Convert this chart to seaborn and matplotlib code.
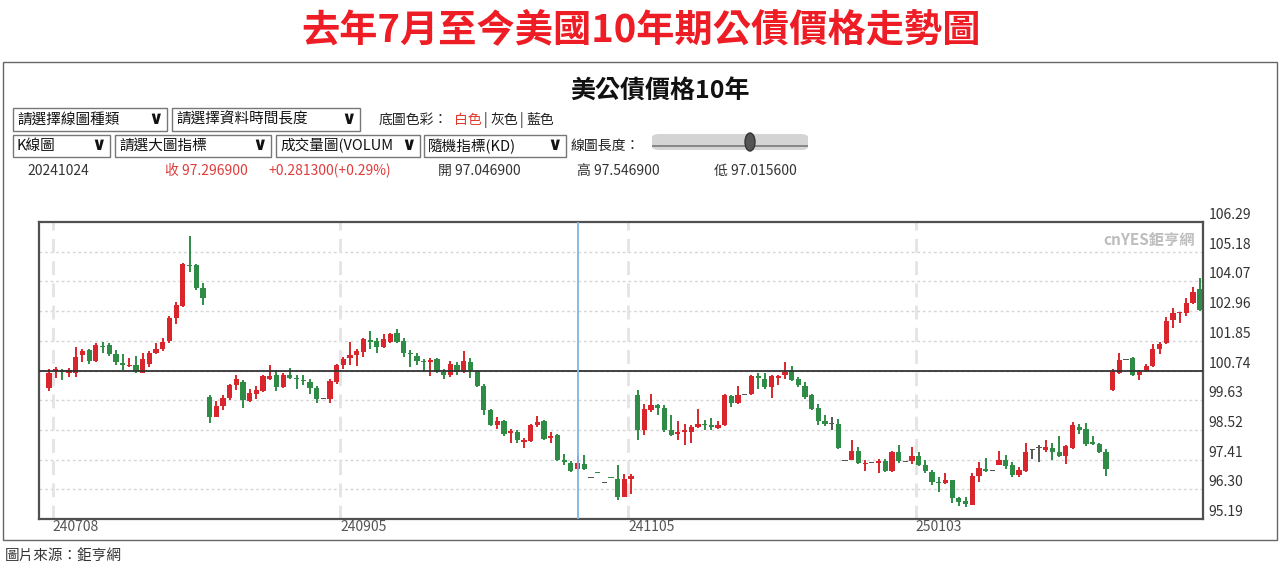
import numpy as np
import pandas as pd
import matplotlib
matplotlib.use('Agg')
from matplotlib import pyplot as plt
from matplotlib.patches import Rectangle, FancyBboxPatch, Ellipse
import seaborn as sns

# K線資料（讀圖估計）
opens = [100.10, 100.74, 100.75, 100.63, 100.63, 101.31, 101.49, 101.10, 101.65, 101.69,
         101.34, 101.03, 100.91, 100.94, 100.66, 101.00, 101.38, 101.54, 101.84, 102.71,
         103.16, 104.67, 104.69, 103.84, 99.75, 99.00, 99.41, 99.71, 100.19, 100.31,
         99.60, 99.88, 99.98, 100.44, 100.59, 100.13, 100.59, 100.46, 100.40, 100.31,
         100.09, 99.69, 99.66, 100.31, 100.94, 101.21, 101.31, 101.44, 101.88, 101.84,
         101.63, 101.79, 102.13, 101.84, 101.41, 101.29, 101.09, 101.04, 101.16, 100.69,
         100.56, 100.94, 100.69, 101.06, 100.71, 100.16, 99.25, 98.69, 98.84, 98.41,
         98.44, 98.06, 98.09, 98.69, 98.84, 98.21, 98.34, 97.38, 97.29, 97.047,
         97.25, 96.73, 96.95, 96.56, 96.75, 96.69, 96.00, 96.69, 99.81, 98.50,
         99.25, 99.46, 99.34, 98.50, 98.38, 98.46, 98.46, 98.63, 98.75, 98.71,
         98.59, 98.69, 99.79, 99.54, 99.84, 99.88, 100.54, 100.44, 100.13, 100.46,
         100.59, 100.75, 100.44, 100.16, 99.81, 99.34, 98.84, 98.75, 98.75, 97.38,
         97.41, 97.75, 97.25, 97.29, 97.29, 97.34, 97.00, 97.71, 97.34, 97.34,
         97.54, 97.21, 96.96, 96.59, 96.54, 96.63, 95.96, 95.88, 95.71, 96.79,
         97.04, 97.00, 97.21, 97.38, 97.19, 96.85, 96.98, 97.78, 97.85, 97.78,
         97.85, 97.69, 97.53, 97.85, 98.63, 98.56, 98.06, 98.00, 97.69, 100.00,
         100.65, 101.15, 101.19, 100.56, 100.73, 100.90, 101.56, 101.75, 102.63, 102.88,
         102.90, 103.25, 103.78]
highs = [100.79, 100.87, 100.81, 100.84, 101.63, 101.56, 101.56, 101.75, 101.81, 101.75,
         101.50, 101.34, 101.19, 101.29, 101.38, 101.46, 101.75, 101.94, 102.78, 103.29,
         104.75, 105.75, 104.71, 104.00, 99.84, 99.59, 99.81, 100.25, 100.56, 100.38,
         100.06, 100.16, 100.56, 100.94, 100.75, 100.63, 100.84, 100.59, 100.56, 100.44,
         100.16, 99.69, 100.41, 101.00, 101.25, 101.81, 101.56, 101.96, 102.21, 101.94,
         102.09, 102.16, 102.29, 101.96, 101.50, 101.41, 101.16, 101.19, 101.19, 100.79,
         101.09, 101.04, 101.46, 101.21, 100.75, 100.25, 99.29, 99.00, 98.88, 98.56,
         98.50, 98.21, 98.75, 99.03, 98.88, 98.44, 98.38, 97.63, 97.34, 97.547,
         97.59, 96.73, 96.95, 96.56, 96.75, 97.21, 96.88, 96.88, 100.00, 99.50,
         99.88, 99.50, 99.44, 99.09, 98.84, 98.75, 98.71, 99.29, 98.88, 98.96,
         98.84, 99.88, 99.84, 100.16, 99.84, 100.59, 100.63, 100.63, 100.59, 100.59,
         101.06, 100.91, 100.50, 100.31, 99.88, 99.50, 99.09, 99.00, 98.94, 97.38,
         98.13, 97.88, 97.38, 97.29, 97.44, 97.44, 97.75, 97.96, 97.34, 97.88,
         97.71, 97.38, 97.04, 96.75, 96.91, 96.66, 96.00, 96.00, 96.91, 97.31,
         97.46, 97.00, 97.75, 97.59, 97.31, 97.13, 98.03, 97.81, 97.94, 98.13,
         98.03, 98.31, 97.94, 98.81, 98.73, 98.78, 98.31, 98.03, 97.81, 100.81,
         101.40, 101.15, 101.25, 100.75, 101.00, 101.73, 101.81, 102.73, 103.06, 102.94,
         103.44, 103.85, 104.19]
lows = [99.98, 100.46, 100.38, 100.50, 100.48, 101.06, 101.00, 101.06, 101.41, 101.29,
        100.96, 100.75, 100.88, 100.66, 100.66, 100.88, 101.34, 101.46, 101.75, 102.46,
        103.13, 104.41, 103.75, 103.19, 98.79, 99.00, 99.25, 99.63, 100.00, 99.34,
        99.56, 99.69, 99.94, 100.38, 99.96, 100.09, 100.44, 100.06, 100.19, 99.88,
        99.54, 99.69, 99.54, 100.25, 100.81, 100.94, 100.91, 101.25, 101.56, 101.41,
        101.59, 101.75, 101.75, 101.25, 100.88, 100.94, 100.69, 100.54, 100.66, 100.41,
        100.50, 100.56, 100.66, 100.46, 100.13, 99.09, 98.66, 98.54, 98.31, 98.04,
        98.04, 97.84, 98.06, 98.63, 98.16, 98.04, 97.34, 97.21, 96.94, 97.016,
        97.04, 96.73, 96.93, 96.56, 96.73, 95.91, 96.00, 96.13, 98.16, 98.34,
        99.19, 99.09, 98.44, 98.29, 98.16, 97.94, 98.04, 98.59, 98.50, 98.50,
        98.56, 98.66, 99.38, 99.50, 99.84, 99.84, 100.04, 100.06, 99.71, 100.19,
        100.41, 100.34, 100.13, 99.69, 99.25, 98.71, 98.66, 98.50, 97.81, 97.38,
        97.38, 97.25, 97.00, 97.29, 96.91, 96.96, 96.96, 97.29, 97.34, 97.25,
        97.16, 96.91, 96.46, 96.21, 96.50, 95.79, 95.69, 95.63, 95.71, 96.56,
        96.96, 97.00, 97.19, 97.06, 96.75, 96.75, 96.94, 97.44, 97.31, 97.69,
        97.38, 97.50, 97.25, 97.81, 98.38, 97.90, 97.94, 97.65, 96.78, 99.98,
        100.60, 101.15, 100.53, 100.38, 100.69, 100.88, 101.35, 101.73, 102.31, 102.50,
        102.78, 103.23, 102.98]
closes = [100.66, 100.78, 100.67, 100.75, 101.25, 101.46, 101.10, 101.69, 101.60, 101.34,
          101.04, 100.96, 100.96, 100.71, 101.16, 101.41, 101.56, 101.81, 102.71, 103.19,
          104.71, 104.63, 103.84, 103.44, 99.00, 99.41, 99.71, 100.21, 100.44, 99.63,
          99.91, 100.00, 100.53, 100.54, 100.13, 100.59, 100.46, 100.41, 100.34, 100.09,
          99.66, 99.69, 100.34, 100.94, 101.16, 101.31, 101.46, 101.91, 101.81, 101.63,
          101.91, 102.10, 101.81, 101.38, 101.34, 101.10, 101.04, 101.13, 100.69, 100.59,
          101.00, 100.69, 101.10, 100.71, 100.16, 99.25, 98.71, 98.84, 98.38, 98.49,
          98.13, 98.16, 98.69, 98.81, 98.19, 98.31, 97.38, 97.31, 97.00, 97.297,
          97.06, 96.73, 96.93, 96.56, 96.73, 96.00, 96.69, 96.79, 98.50, 99.29,
          99.46, 99.34, 98.50, 98.34, 98.46, 98.52, 98.63, 98.75, 98.69, 98.63,
          98.71, 99.81, 99.54, 99.81, 99.84, 100.54, 100.46, 100.13, 100.54, 100.54,
          100.69, 100.38, 100.19, 99.75, 99.31, 98.84, 98.75, 98.75, 97.84, 97.38,
          97.75, 97.29, 97.29, 97.29, 97.34, 97.00, 97.71, 97.34, 97.34, 97.54,
          97.21, 97.00, 96.56, 96.54, 96.66, 95.96, 95.84, 95.75, 96.79, 97.09,
          96.99, 97.00, 97.38, 97.16, 96.85, 97.03, 97.69, 97.78, 97.85, 97.88,
          97.69, 97.53, 97.90, 98.69, 98.53, 97.98, 97.98, 97.69, 97.06, 100.69,
          101.15, 101.15, 100.56, 100.69, 100.90, 101.56, 101.73, 102.60, 102.90, 102.94,
          103.25, 103.69, 103.00]

ytick_labels = ['95.19', '96.30', '97.41', '98.52', '99.63', '100.74',
                '101.85', '102.96', '104.07', '105.18', '106.29']
date_labels = ['240708', '240905', '241105', '250103']
date_idx = [1, 44, 87, 130]
ref_level = 100.74
cursor_idx = 79

df = pd.DataFrame({'o': opens, 'h': highs, 'l': lows, 'c': closes})
df['i'] = np.arange(len(df))

RED = '#d9262c'
GREEN = '#2f8c46'
DOJI = '#555555'

sns.set_style('white')
plt.rcParams['font.family'] = ['Noto Sans CJK TC', 'DejaVu Sans']

W, H = 1282, 569
fig = plt.figure(figsize=(W / 100, H / 100), dpi=100)


def fx(x):
    return x / W


def fy(y):
    return 1 - y / H


# 標題
fig.text(0.5, fy(30), '去年7月至今美國10年期公債價格走勢圖', ha='center', va='center',
         fontsize=27.5, fontweight='bold', color='#ee1c25')

# 外框
fig.add_artist(Rectangle((fx(3), fy(540)), fx(1274), (540 - 62) / H, transform=fig.transFigure,
                         fill=False, edgecolor='#666666', lw=1))

fig.text(fx(660), fy(92), '美公債價格10年', ha='center', va='center', fontsize=18,
         fontweight='bold', color='#111111')


def dropdown(x0, x1, y0, y1, label):
    fig.add_artist(Rectangle((fx(x0), fy(y1)), fx(x1 - x0), (y1 - y0) / H, transform=fig.transFigure,
                             fill=False, edgecolor='#777777', lw=1))
    fig.text(fx(x0 + 4), fy((y0 + y1) / 2), label, ha='left', va='center', fontsize=10.5, color='#111111')
    fig.text(fx(x1 - 4), fy((y0 + y1) / 2 - 1), '∨', ha='right', va='center', fontsize=13,
             fontweight='bold', color='#111111', family=['DejaVu Sans'])


dropdown(13, 167, 108, 131, '請選擇線圖種類')
dropdown(172, 360, 108, 131, '請選擇資料時間長度')
dropdown(13, 110, 135, 157, 'K線圖')
dropdown(115, 271, 135, 157, '請選大圖指標')
dropdown(276, 420, 135, 157, '成交量圖(VOLUM')
dropdown(424, 566, 135, 157, '隨機指標(KD)')

fig.text(fx(379), fy(120), '底圖色彩：', ha='left', va='center', fontsize=10, color='#222222')
fig.text(fx(454), fy(120), '白色', ha='left', va='center', fontsize=10, color='#e03c2c')
fig.text(fx(484), fy(120), '|', ha='left', va='center', fontsize=10, color='#222222')
fig.text(fx(490), fy(120), '灰色', ha='left', va='center', fontsize=10, color='#222222')
fig.text(fx(520), fy(120), '|', ha='left', va='center', fontsize=10, color='#222222')
fig.text(fx(526), fy(120), '藍色', ha='left', va='center', fontsize=10, color='#222222')
fig.text(fx(571), fy(146), '線圖長度：', ha='left', va='center', fontsize=10, color='#222222')

# 滑桿
fig.add_artist(FancyBboxPatch((fx(652), fy(150)), fx(156), 16 / H, transform=fig.transFigure,
                              boxstyle='round,pad=0,rounding_size=0.006', facecolor='#d4d4d4',
                              edgecolor='none'))
fig.add_artist(Rectangle((fx(652), fy(146.5)), fx(156), 1.2 / H, transform=fig.transFigure,
                         facecolor='#888888', edgecolor='none'))
fig.add_artist(Ellipse((fx(750), fy(142)), fx(10), 18 / H, transform=fig.transFigure,
                       facecolor='#555555', edgecolor='#333333'))

# 報價列
fig.text(fx(27), fy(171), '20241024', ha='left', va='center', fontsize=10, color='#333333')
fig.text(fx(165), fy(171), '收 97.296900', ha='left', va='center', fontsize=10, color='#e03c3c')
fig.text(fx(268), fy(171), '+0.281300(+0.29%)', ha='left', va='center', fontsize=10, color='#e03c3c')
fig.text(fx(438), fy(171), '開 97.046900', ha='left', va='center', fontsize=10, color='#333333')
fig.text(fx(577), fy(171), '高 97.546900', ha='left', va='center', fontsize=10, color='#333333')
fig.text(fx(714), fy(171), '低 97.015600', ha='left', va='center', fontsize=10, color='#333333')

# K線主圖
ax = fig.add_axes([fx(39), fy(519), fx(1164), (519 - 222) / H])
yt = [float(v) for v in ytick_labels]
ax.set_ylim(yt[0], yt[-1])
ax.set_xlim(-1.5, len(df) - 0.5)

for v in yt[1:-1]:
    ax.axhline(v, color='#d6d6d6', lw=1, ls=(0, (2, 2)), zorder=0)
for d in date_idx:
    ax.axvline(d - 0.45, color='#e4e4e4', lw=2, ls=(0, (5, 3)), zorder=0)

colors = np.where(df.c > df.o, RED, np.where(df.c < df.o, GREEN, DOJI))
min_h = 0.045
body_low = np.minimum(df.o, df.c)
body_h = np.abs(df.c - df.o)
body_low = np.where(body_h < min_h, (df.o + df.c) / 2 - min_h / 2, body_low)
body_h = np.maximum(body_h, min_h)

ax.vlines(df.i, df.l, df.h, colors=colors, lw=1.4, zorder=2)
ax.bar(df.i, body_h, bottom=body_low, width=0.78, color=colors, lw=0, zorder=3)

ax.axhline(ref_level, color='#333333', lw=1.3, zorder=4)
ax.axvline(cursor_idx, color='#7db6e6', lw=1.3, zorder=4)

ax.text(0.993, 0.965, 'cnYES鉅亨網', transform=ax.transAxes, ha='right', va='top',
        fontsize=11, fontweight='bold', color='#bdbdbd')

ax.set_xticks([d - 0.45 for d in date_idx])
ax.set_xticklabels(date_labels)
for lab in ax.get_xticklabels():
    lab.set_ha('left')
ax.set_yticks(yt)
ax.set_yticklabels(ytick_labels)
ax.yaxis.tick_right()
for lab in ax.get_yticklabels():
    lab.set_va('bottom')
ax.tick_params(axis='x', length=0, pad=1, labelsize=10, labelcolor='#555555')
ax.tick_params(axis='y', length=0, pad=4, labelsize=10, labelcolor='#333333')
for s in ax.spines.values():
    s.set_visible(True)
    s.set_color('#505050')
    s.set_linewidth(1.6)

fig.text(fx(5), fy(557), '圖片來源：鉅亨網', ha='left', va='center', fontsize=10.5, color='#333333')

fig.savefig('out.png', dpi=100)
